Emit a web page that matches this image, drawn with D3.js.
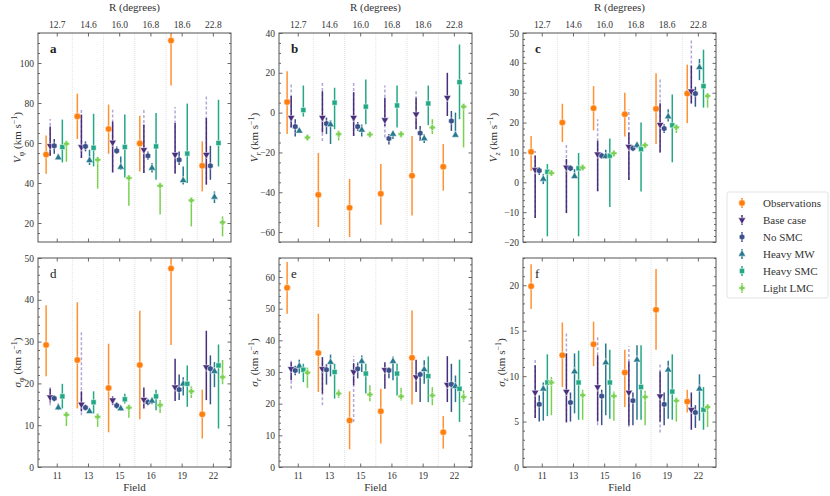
<!DOCTYPE html>
<html>
<head>
<meta charset="utf-8">
<script src="https://cdn.jsdelivr.net/npm/d3@7"></script>
<style>
body { margin: 0; background: #fff; }
</style>
</head>
<body>
<svg id="chart" width="830" height="496" font-family="Liberation Serif"></svg>
<script>
// categories
var fields = ["11", "13", "15", "16", "19", "22"];
var radii = ["12.7", "14.6", "16.0", "16.8", "18.6", "22.8"];
var seriesNames = ["Observations", "Base case", "No SMC", "Heavy MW", "Heavy SMC", "Light LMC"];

// every entry is [value, lower, upper] for one field
// a: V_phi
var vphiObs = [[54.2, 44.6, 63.8], [73.3, 62, 84.7], [67, 54.6, 79.2], [59.8, 45.8, 73.6], [111.2, 88.7, 130], [48.6, 35.8, 60.8]];
var vphiBase = [[58.6, 53.6, 68.3], [58, 52.5, 74.2], [60.3, 45.3, 70.7], [56.6, 45, 69.2], [54.2, 44.7, 70], [54.2, 39.2, 72.5]];
var vphiBaseWide = [[53.6, 72], [52.5, 77.5], [45.3, 76.6], [45, 76.6], [44.7, 78], [39.2, 84.2]];
var vphiNoSMC = [[58.6, 54.6, 62], [58.3, 55.8, 60.8], [56.1, 54.6, 58.3], [53.6, 51.6, 55.8], [51.6, 49, 55.8], [48.6, 41.6, 58.6]];
var vphiHeavyMW = [[52.7, 51.7, 54.6], [51.3, 49, 56.6], [48, 46.6, 53.3], [47.5, 45.3, 50], [41.3, 39.2, 48.3], [33, 30, 35.8]];
var vphiHeavySMC = [[58, 50.3, 71.7], [57.6, 48.3, 74.6], [58, 42.8, 74.2], [58.3, 41.6, 75], [54.7, 40, 79.7], [60, 48.3, 81.6]];
var vphiLight = [[59.6, 50.6, 60], [51.6, 37.2, 52.5], [42.5, 28.6, 43], [38.6, 24.2, 39.2], [31.3, 18.3, 32], [20.3, 13.3, 23.3]];

// b: V_r
var vrObs = [[5.3, -10.8, 20.8], [-41.3, -57.5, -20.3], [-47.8, -62.5, -33.3], [-40.8, -56.3, -25.8], [-31.7, -51.7, -11.7], [-27.2, -39.2, -15.8]];
var vrBase = [[-2.5, -7.5, 8.3], [-2.5, -10, 10.8], [-2.5, -11.7, 10.3], [-3.7, -6.7, 7.5], [-0.8, -8.3, 7.5], [7.5, -1.7, 20]];
var vrBaseWide = [[-7.5, 14.2], [-14.2, 15.8], [-11.7, 15], [-12.5, 13.6], [-8.3, 10.8], null];
var vrNoSMC = [[-7, -12, -3.3], [-5.5, -10.8, -2.5], [-7, -9.2, -4.7], [-13, -16, -10.8], [-10.3, -14.2, -6.7], [-4.2, -9.2, 0.8]];
var vrHeavyMW = [[-9.2, -10.3, -7.8], [-6, -15.8, -3.7], [-8.7, -12, -6], [-10.8, -13.3, -9.2], [-13, -15.3, -10.8], [-11.3, -11.7, 0]];
var vrHeavySMC = [[1.3, -2, 13.6], [5, -8.3, 12.5], [3, -5.8, 16.6], [3.6, -7.5, 13.6], [4.6, -6.3, 13.6], [15.3, -3.3, 34.2]];
var vrLight = [[-12.5, -14, -11.5], [-10.8, -14, -9], [-11, -12.5, -9.5], [-10.8, -12.5, -9.2], [-7.5, -10.8, -3.3], [3, -17.5, 4.2]];

// c: V_z
var vzObs = [[10.2, 3.9, 15.5], [20, 13.5, 26.3], [24.8, 17.4, 32.2], [22.8, 15.3, 30], [24.6, 12.8, 36.5], [29.7, 19.8, 39.4]];
var vzBase = [[4.2, -12, 8.9], [5, -10.3, 7.8], [9.4, -3, 13.9], [11.9, 0.8, 16.7], [19.3, 10, 26.5], [30.5, 26.4, 39.1]];
var vzBaseWide = [[-12, 10.5], [-10.3, 13.1], [-3, 21.1], [0.8, 24.4], [10, 34.4], [26.4, 47.8]];
var vzNoSMC = [[3.9, 2.4, 5], [4.7, 4, 5.5], [8.9, 8, 9.8], [11.4, 10.8, 12.2], [18, 16.5, 19.4], [29.7, 25.3, 32]];
var vzHeavyMW = [[1.1, -0.6, 2.8], [2, 1.4, 4.4], [8.7, 7.8, 10.9], [12.4, 11.4, 13.4], [22, 20.4, 24.5], [38.5, 34.2, 41.3]];
var vzHeavySMC = [[3.5, -18.1, 6.1], [4.7, -18.1, 9.8], [8.9, -8.3, 14.7], [11.1, -3.1, 20], [19.1, 6.7, 29.4], [32.2, 25, 44.4]];
var vzLight = [[3.1, 2.6, 3.6], [4.9, 4.4, 5.4], [9.7, 8.5, 10.5], [12.4, 11.5, 13], [18.4, 16.5, 19], [28.9, 25, 29.5]];

// d: sigma_phi
var sphiObs = [[29.2, 21.7, 38.7], [25.6, 14, 39.4], [18.9, 8.3, 29.5], [24.4, 11.4, 37.4], [47.5, 29.2, 66], [12.6, 6.8, 18.5]];
var sphiBase = [[16.7, 15.5, 18.7], [15, 13.3, 18.1], [16, 14.8, 16.9], [16.1, 14, 19], [19.1, 15.8, 25.9], [23.9, 16, 32.6]];
var sphiBaseWide = [[14.8, 19.5], null, null, null, null, [12.4, 32.6]];
var sphiNoSMC = [[16.4, 15.7, 17.1], [14.2, 13.6, 14.9], [14.7, 14, 15.5], [15.5, 14.8, 16.3], [18.5, 16, 22.1], [23.5, 15, 26.7]];
var sphiHeavyMW = [[14.2, 13.6, 15.2], [13.3, 12.9, 13.8], [14, 13.4, 14.6], [15.8, 15, 16.6], [19.9, 17.1, 21.5], [22.9, 19.1, 25.1]];
var sphiHeavySMC = [[16.9, 14, 19.9], [15.5, 12.8, 18.1], [16.2, 15.2, 17.5], [16.9, 13.6, 18.5], [19.9, 14.4, 24.3], [24.3, 9.2, 29.3]];
var sphiLight = [[12.5, 9.8, 13.2], [12, 9.6, 12.8], [14.2, 11.8, 14.8], [14.8, 12.9, 16], [18.1, 16.5, 19.3], [21.5, 19.8, 25.6]];

// e: sigma_r
var srObs = [[56.6, 48.4, 64.7], [36, 23.7, 48.4], [14.7, 5.6, 23.9], [17.6, 7.4, 24.7], [34.5, 19.7, 49.4], [11, 5.8, 16.1]];
var srBase = [[31, 27.4, 33.1], [31, 23.2, 34.7], [30, 25.8, 32.8], [30.7, 24.7, 33.1], [28.4, 23.7, 33.9], [26, 20.5, 35]];
var srBaseWide = [null, null, null, [24.7, 34], [19.5, 33.9], [14.2, 35]];
var srNoSMC = [[30.5, 29, 32], [30.7, 26, 32.5], [31, 28, 33], [30.5, 28, 31.5], [29.2, 20.5, 29.6], [26.1, 17.4, 32.6]];
var srHeavyMW = [[31.9, 29.5, 33.9], [33.1, 28.6, 35.5], [33.4, 30, 35.2], [33.4, 27.4, 34.9], [30.8, 26.3, 33.7], [25.5, 20.5, 28.9]];
var srHeavySMC = [[30.7, 26.8, 32.6], [30, 21.6, 32.6], [29.5, 23.2, 32.6], [29.5, 22.6, 32.6], [28.7, 20.5, 34.9], [24.7, 14.2, 33.9]];
var srLight = [[29.8, 25, 31.4], [23.2, 21.8, 24.5], [22.9, 20.8, 25.8], [22.3, 21, 25], [22.6, 19.5, 25.2], [22.1, 20.5, 24.2]];

// f: sigma_z
var szObs = [[19.9, 17.4, 22.3], [12.3, 8.8, 15.9], [13.5, 11.1, 16], [10.4, 6.6, 12.9], [17.3, 12.9, 21.8], [7.2, 6, 8.5]];
var szBase = [[8.2, 5.4, 11.2], [8.3, 4.9, 12.5], [8.8, 5, 12.3], [8.2, 4.6, 11.6], [7.8, 5, 10.5], [6.3, 4.1, 8.2]];
var szBaseWide = [[5.4, 11.9], null, [5, 14.7], [4.6, 14.4], [4.4, 13.3], [3.8, 11.5]];
var szNoSMC = [[6.9, 5, 7.9], [7.1, 5, 8.2], [7.8, 4.6, 8.5], [7.3, 4.6, 8.2], [6.9, 4.6, 8.2], [6, 4.3, 6.8]];
var szHeavyMW = [[8.6, 5.1, 9.3], [10.5, 5.9, 12.5], [11.5, 5.7, 13.6], [11.8, 5.2, 13.4], [10.7, 5.3, 11.7], [8.6, 5.1, 10.2]];
var szHeavySMC = [[9.3, 5.6, 12.4], [9.3, 5.2, 12.8], [9.3, 5.3, 12.9], [8.8, 5.2, 13.4], [8.3, 5.2, 12.4], [6.3, 4.1, 8.8]];
var szLight = [[9.3, 5.7, 9.9], [7.9, 5.2, 8.5], [7.8, 5.1, 8.3], [7.7, 4.6, 8.4], [7.3, 5, 7.5], [6.6, 4.4, 6.8]];

var colors = ["#ff7f0e", "#472d7b", "#3b528b", "#28798e", "#22a884", "#7ad151"];
var dashColor = "#b3a6d6";
var font = "Liberation Serif";

// hexagon marker (pointy top)
var symbolHexagon = {
    draw: function (ctx, size) {
        var r = Math.sqrt(size / (1.5 * Math.sqrt(3)));
        for (var i = 0; i < 6; i++) {
            var a = Math.PI / 2 + i * Math.PI / 3;
            if (i === 0) ctx.moveTo(r * Math.cos(a), -r * Math.sin(a));
            else ctx.lineTo(r * Math.cos(a), -r * Math.sin(a));
        }
        ctx.closePath();
    }
};
// filled plus with thick arms
var symbolFatPlus = {
    draw: function (ctx, size) {
        var r = Math.sqrt(size) * 0.6, t = r * 0.42;
        ctx.moveTo(-t, -r); ctx.lineTo(t, -r); ctx.lineTo(t, -t); ctx.lineTo(r, -t);
        ctx.lineTo(r, t); ctx.lineTo(t, t); ctx.lineTo(t, r); ctx.lineTo(-t, r);
        ctx.lineTo(-t, t); ctx.lineTo(-r, t); ctx.lineTo(-r, -t); ctx.lineTo(-t, -t);
        ctx.closePath();
    }
};
var markers = [
    {type: d3.symbolCircle, size: 34, rot: 0},
    {type: d3.symbolTriangle, size: 24, rot: 180},
    {type: symbolHexagon, size: 26, rot: 0},
    {type: d3.symbolTriangle, size: 24, rot: 0},
    {type: d3.symbolSquare, size: 26, rot: 0},
    {type: symbolFatPlus, size: 26, rot: 0}
];

var panels = [
    {tag: "a", bold: true, sym: "V", sub: "\u03c6", domain: [10.5, 115], ticks: [20, 40, 60, 80, 100], minor: 5, labelDx: -17,
        series: [vphiObs, vphiBase, vphiNoSMC, vphiHeavyMW, vphiHeavySMC, vphiLight], wide: vphiBaseWide},
    {tag: "b", bold: true, sym: "V", sub: "r", domain: [-65, 40], ticks: [-60, -40, -20, 0, 20, 40], minor: 5, labelDx: -21,
        series: [vrObs, vrBase, vrNoSMC, vrHeavyMW, vrHeavySMC, vrLight], wide: vrBaseWide},
    {tag: "c", bold: true, sym: "V", sub: "z", domain: [-20, 50], ticks: [-20, -10, 0, 10, 20, 30, 40, 50], minor: 2, labelDx: -26,
        series: [vzObs, vzBase, vzNoSMC, vzHeavyMW, vzHeavySMC, vzLight], wide: vzBaseWide},
    {tag: "d", bold: false, sym: "\u03c3", sub: "\u03c6", domain: [0, 50], ticks: [0, 10, 20, 30, 40, 50], minor: 2, labelDx: -17,
        series: [sphiObs, sphiBase, sphiNoSMC, sphiHeavyMW, sphiHeavySMC, sphiLight], wide: sphiBaseWide},
    {tag: "e", bold: false, sym: "\u03c3", sub: "r", domain: [0, 66], ticks: [0, 10, 20, 30, 40, 50, 60], minor: 2, labelDx: -21,
        series: [srObs, srBase, srNoSMC, srHeavyMW, srHeavySMC, srLight], wide: srBaseWide},
    {tag: "f", bold: false, sym: "\u03c3", sub: "z", domain: [0, 23], ticks: [0, 5, 10, 15, 20], minor: 1, labelDx: -18,
        series: [szObs, szBase, szNoSMC, szHeavyMW, szHeavySMC, szLight], wide: szBaseWide}
];

var svg = d3.select("#chart");
var W = 193, H = 209;
var lefts = [38, 279, 523], tops = [33, 258];
var offsets = [-0.34, -0.21, -0.08, 0.05, 0.18, 0.31];
var fmt = d3.format("");

function tidyAxis(a) {
    a.attr("font-family", null).attr("font-size", null);
    a.select(".domain").remove();
    a.selectAll(".tick line").attr("stroke", "#444").attr("stroke-width", 0.8);
    a.selectAll("text").attr("font-size", 9.5).attr("fill", "#333");
}

panels.forEach(function (p, k) {
    var row = Math.floor(k / 3), col = k % 3;
    var g = svg.append("g").attr("transform", "translate(" + lefts[col] + "," + tops[row] + ")");
    var x = d3.scaleLinear().domain([-0.6, 5.58]).range([0, W]);
    var y = d3.scaleLinear().domain(p.domain).range([H, 0]);

    g.append("clipPath").attr("id", "clip" + k)
        .append("rect").attr("width", W).attr("height", H);

    // dotted separators between fields
    g.selectAll(".sep").data(d3.range(5)).enter().append("line")
        .attr("x1", function (d) { return x(d + 0.5); })
        .attr("x2", function (d) { return x(d + 0.5); })
        .attr("y1", 0).attr("y2", H)
        .attr("stroke", "#d4d4d4").attr("stroke-width", 0.7)
        .attr("stroke-dasharray", "1,1");

    var plot = g.append("g").attr("clip-path", "url(#clip" + k + ")");

    p.series.forEach(function (data, s) {
        var xs = function (d, i) { return x(i + offsets[s]); };
        if (s === 1) {
            plot.selectAll(".wide" + k).data(p.wide).enter().append("line")
                .filter(function (d) { return d !== null; })
                .attr("x1", xs).attr("x2", xs)
                .attr("y1", function (d) { return y(d[0]); })
                .attr("y2", function (d) { return y(d[1]); })
                .attr("stroke", dashColor).attr("stroke-width", 1.5)
                .attr("stroke-dasharray", "3,2");
        }
        plot.selectAll(".bar" + s).data(data).enter().append("line")
            .attr("x1", xs).attr("x2", xs)
            .attr("y1", function (d) { return y(d[1]); })
            .attr("y2", function (d) { return y(d[2]); })
            .attr("stroke", colors[s]).attr("stroke-width", 1.5)
            .attr("opacity", s === 0 ? 0.85 : 1);
        var m = markers[s];
        plot.selectAll(".mk" + s).data(data).enter().append("path")
            .attr("d", d3.symbol().type(m.type).size(m.size))
            .attr("transform", function (d, i) {
                return "translate(" + xs(d, i) + "," + y(d[0]) + ") rotate(" + m.rot + ")";
            })
            .attr("fill", colors[s]).attr("stroke", "#fff").attr("stroke-width", 0.5);
    });

    // y axes, ticks pointing inward
    var minorVals = d3.range(Math.ceil(p.domain[0] / p.minor) * p.minor, p.domain[1] + 0.001, p.minor)
        .filter(function (v) { return p.ticks.indexOf(v) < 0; });
    g.append("g").call(d3.axisLeft(y).tickValues(p.ticks).tickSize(-3.5).tickPadding(4).tickFormat(fmt)).call(tidyAxis);
    g.append("g").call(d3.axisLeft(y).tickValues(minorVals).tickSize(-2).tickFormat("")).call(tidyAxis);
    g.append("g").attr("transform", "translate(" + W + ",0)")
        .call(d3.axisRight(y).tickValues(p.ticks).tickSize(-3.5).tickFormat("")).call(tidyAxis);
    g.append("g").attr("transform", "translate(" + W + ",0)")
        .call(d3.axisRight(y).tickValues(minorVals).tickSize(-2).tickFormat("")).call(tidyAxis);

    // x axes top and bottom
    var idx = d3.range(6);
    g.append("g").call(d3.axisTop(x).tickValues(idx).tickSize(-3.5).tickPadding(5)
        .tickFormat(function (d) { return row === 0 ? radii[d] : ""; })).call(tidyAxis);
    g.append("g").attr("transform", "translate(0," + H + ")")
        .call(d3.axisBottom(x).tickValues(idx).tickSize(-3.5).tickPadding(5)
            .tickFormat(function (d) { return row === 1 ? fields[d] : ""; })).call(tidyAxis);

    g.append("rect").attr("width", W).attr("height", H)
        .attr("fill", "none").attr("stroke", "#555").attr("stroke-width", 1);

    if (row === 0) {
        g.append("text").attr("x", W / 2).attr("y", -22).attr("text-anchor", "middle")
            .attr("font-size", 11).attr("fill", "#333").text("R (degrees)");
    } else {
        g.append("text").attr("x", W / 2).attr("y", H + 24).attr("text-anchor", "middle")
            .attr("font-size", 11).attr("fill", "#333").text("Field");
    }

    g.append("text").attr("x", 12).attr("y", 20).attr("font-size", 13).attr("fill", "#222")
        .attr("font-weight", p.bold ? "bold" : "normal").text(p.tag);

    // y label
    var lab = g.append("text").attr("transform", "translate(" + p.labelDx + "," + (H / 2) + ") rotate(-90)")
        .attr("text-anchor", "middle").attr("font-size", 11).attr("fill", "#333");
    lab.append("tspan").attr("font-style", "italic").text(p.sym);
    lab.append("tspan").attr("font-size", 8).attr("dy", 3)
        .attr("font-style", p.sub === "\u03c6" ? "normal" : "italic").text(p.sub);
    lab.append("tspan").attr("dy", -3).text(" (km s");
    lab.append("tspan").attr("font-size", 8).attr("dy", -4).text("\u22121");
    lab.append("tspan").attr("dy", 4).text(")");
});

// legend
var leg = svg.append("g").attr("transform", "translate(727,192)");
leg.append("rect").attr("width", 101).attr("height", 106).attr("rx", 2)
    .attr("fill", "#fff").attr("stroke", "#dcdcdc").attr("stroke-width", 0.8);
seriesNames.forEach(function (name, s) {
    var yy = 11 + s * 17;
    leg.append("line").attr("x1", 15).attr("x2", 15).attr("y1", yy - 5).attr("y2", yy + 5)
        .attr("stroke", colors[s]).attr("stroke-width", 1.5);
    leg.append("path").attr("d", d3.symbol().type(markers[s].type).size(markers[s].size))
        .attr("transform", "translate(15," + yy + ") rotate(" + markers[s].rot + ")")
        .attr("fill", colors[s]).attr("stroke", "#fff").attr("stroke-width", 0.5);
    leg.append("text").attr("x", 36).attr("y", yy + 4).attr("font-size", 11).attr("fill", "#333").text(name);
});

svg.selectAll("text").attr("font-family", font);
</script>
</body>
</html>
